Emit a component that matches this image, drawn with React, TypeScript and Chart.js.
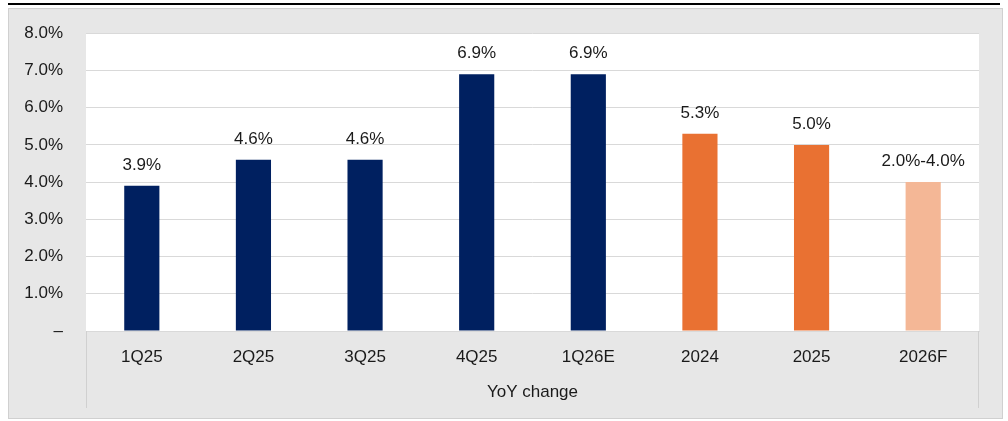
import React, { useEffect, useRef } from "react";
import { Chart, registerables } from "chart.js";

Chart.register(...registerables);

const categories = ["1Q25", "2Q25", "3Q25", "4Q25", "1Q26E", "2024", "2025", "2026F"];
const values = [3.9, 4.6, 4.6, 6.9, 6.9, 5.3, 5.0, 4.0];
const valueLabels = ["3.9%", "4.6%", "4.6%", "6.9%", "6.9%", "5.3%", "5.0%", "2.0%-4.0%"];
const barColors = ["#002060", "#002060", "#002060", "#002060", "#002060", "#E97132", "#E97132", "#F4B796"];
const axisTitle = "YoY change";

const FONT = "'Liberation Sans', Arial, sans-serif";
const TEXT = "#1a1a1a";

const backgroundPlugin = {
  id: "bgPlugin",
  beforeDraw(chart: any) {
    const { ctx, chartArea } = chart;
    ctx.save();
    ctx.fillStyle = "#e7e7e7";
    ctx.fillRect(8, 8, 995, 410);
    ctx.strokeStyle = "#d0d0d0";
    ctx.lineWidth = 1;
    ctx.strokeRect(8.5, 8.5, 994, 410);
    ctx.fillStyle = "#000000";
    ctx.fillRect(8, 3, 992, 2);
    ctx.fillStyle = "#ffffff";
    ctx.fillRect(chartArea.left, chartArea.top, chartArea.right - chartArea.left, chartArea.bottom - chartArea.top);
    ctx.restore();
  },
  afterDraw(chart: any) {
    const { ctx, chartArea } = chart;
    ctx.save();
    ctx.strokeStyle = "#d0d0d0";
    ctx.lineWidth = 1;
    ctx.beginPath();
    ctx.moveTo(Math.round(chartArea.left) + 0.5, chartArea.bottom);
    ctx.lineTo(Math.round(chartArea.left) + 0.5, 408);
    ctx.moveTo(Math.round(chartArea.right) - 0.5, chartArea.bottom);
    ctx.lineTo(Math.round(chartArea.right) - 0.5, 408);
    ctx.stroke();
    const meta = chart.getDatasetMeta(0);
    ctx.fillStyle = TEXT;
    ctx.font = `17px ${FONT}`;
    ctx.textAlign = "center";
    ctx.textBaseline = "alphabetic";
    meta.data.forEach((el: any, i: number) => {
      ctx.fillText(valueLabels[i], el.x, el.y - 16);
    });
    ctx.restore();
  },
};

export default function App() {
  const ref = useRef<HTMLCanvasElement>(null);
  useEffect(() => {
    if (!ref.current) return;
    const chart = new Chart(ref.current, {
      type: "bar",
      data: {
        labels: categories,
        datasets: [
          {
            data: values,
            backgroundColor: barColors,
            barPercentage: 0.63,
            categoryPercentage: 0.5,
          },
        ],
      },
      options: {
        animation: false,
        responsive: false,
        maintainAspectRatio: false,
        devicePixelRatio: 1,
        layout: { padding: { left: 0, right: 29, top: 33, bottom: 0 } },
        plugins: { legend: { display: false }, tooltip: { enabled: false } },
        scales: {
          x: {
            grid: { display: false, drawTicks: false },
            border: { display: true, color: "#d9d9d9", width: 1 },
            ticks: { color: TEXT, font: { family: FONT, size: 17 }, padding: 16, maxRotation: 0 },
            title: {
              display: true,
              text: axisTitle,
              color: TEXT,
              font: { family: FONT, size: 17 },
              padding: { top: 18, bottom: 18 },
            },
            afterFit(scale: any) {
              scale.height = 90;
            },
          },
          y: {
            min: 0,
            max: 8,
            grid: { color: "#d9d9d9", drawTicks: false },
            border: { display: false },
            ticks: {
              stepSize: 1,
              color: TEXT,
              font: { family: FONT, size: 17 },
              padding: 23,
              callback: (v: any) => (Number(v) === 0 ? "–" : Number(v).toFixed(1) + "%"),
            },
            afterFit(scale: any) {
              scale.width = 86;
            },
          },
        },
      },
      plugins: [backgroundPlugin],
    });
    return () => chart.destroy();
  }, []);
  return (
    <div style={{ position: "fixed", left: 0, top: 0, width: 1008, height: 421, background: "#fff" }}>
      <canvas ref={ref} width={1008} height={421} style={{ width: 1008, height: 421, display: "block" }} />
    </div>
  );
}
